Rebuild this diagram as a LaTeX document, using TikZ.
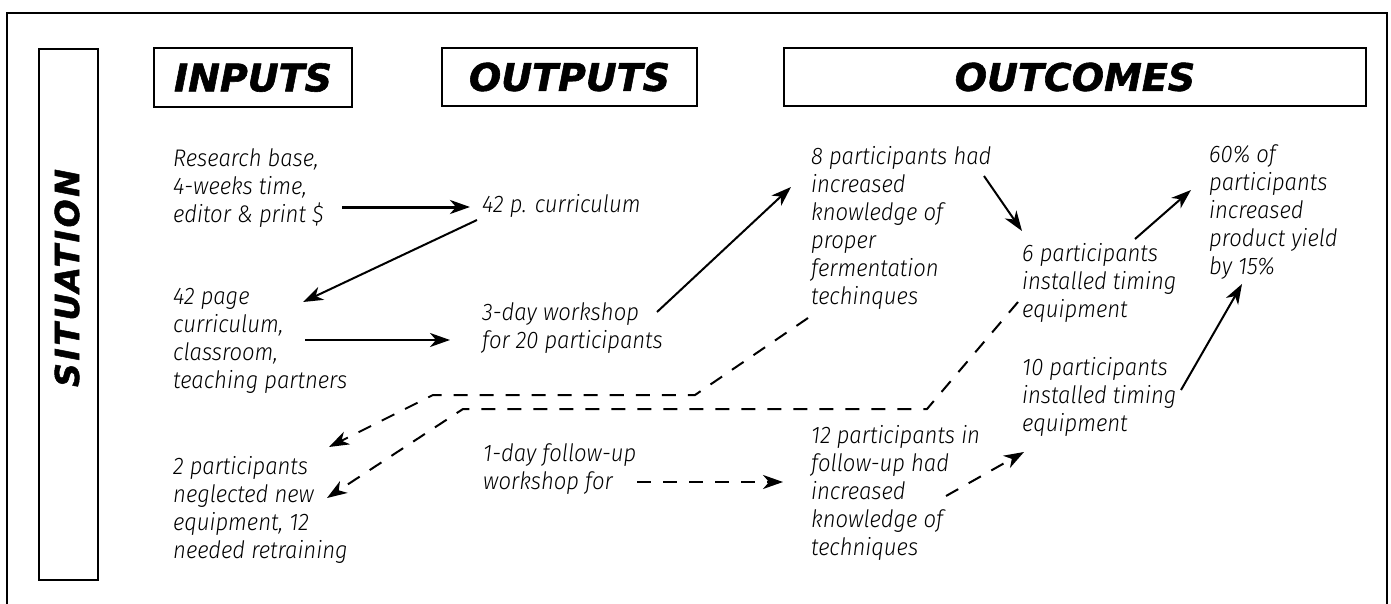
\documentclass[tikz,border=0pt]{standalone}
\usepackage{fontspec}
\setmainfont{Fira Sans}[UprightFont={* Light Italic}, FakeStretch=0.92]
\newfontfamily\headfont{DejaVu Sans}[UprightFont={* Bold Oblique}, FakeBold=1.5]
\usetikzlibrary{arrows.meta}
\begin{document}
\begin{tikzpicture}[x=1pt,y=-1pt,
  txt/.style={anchor=north west, inner sep=0pt, align=left, font=\fontsize{24}{28}\selectfont},
  headbox/.style={draw, line width=1.5pt, inner sep=0pt, font=\headfont\fontsize{38}{38}\selectfont},
  arr/.style={line width=2pt, -{Stealth[length=20pt,width=14pt,inset=6pt]}},
  darr/.style={arr, dash pattern=on 14pt off 12pt}]
\useasboundingbox (0,0) rectangle (1391,604);
% outer frame
\draw[line width=1.5pt] (7,620) -- (7,13) -- (1387,13) -- (1387,620);
% situation
\node[draw, line width=1.5pt, minimum width=59pt, minimum height=531pt, inner sep=0pt] (sitbox) at (68.5,314.5) {};
\node[rotate=90, inner sep=0pt, font=\headfont\fontsize{33}{33}\selectfont\addfontfeatures{LetterSpace=8}] (sit) at (67,278) {SITUATION};
% headers
\node[headbox, minimum width=198pt, minimum height=59pt] (inputs) at (253,77.5) {\raisebox{-2pt}{INPUTS}};
\node[headbox, minimum width=255pt, minimum height=58pt] (outputs) at (569.5,77) {\raisebox{-2pt}{OUTPUTS}};
\node[headbox, minimum width=582pt, minimum height=58pt] (outcomes) at (1075,77) {\raisebox{-2pt}{OUTCOMES}};
% texts
\node[txt] (res) at (173,148) {Research base,\\4-weeks time,\\editor \& print \$};
\node[txt] (cur) at (482,194) {42 p. curriculum};
\node[txt] (page) at (173,288) {42 page\\curriculum,\\classroom,\\teaching partners};
\node[txt] (work) at (482,302) {3-day workshop\\for 20 participants};
\node[txt] (neg) at (173,456) {2 participants\\neglected new\\equipment, 12\\needed retraining};
\node[txt] (follow) at (483,443) {1-day follow-up\\workshop for};
\node[txt] (know8) at (811,146) {8 participants had\\increased\\knowledge of\\proper\\fermentation\\techinques};
\node[txt] (inst6) at (1022,243) {6 participants\\installed timing\\equipment};
\node[txt] (yield) at (1209,144) {60\% of\\participants\\increased\\product yield\\by 15\%};
\node[txt] (inst10) at (1022,357) {10 participants\\installed timing\\equipment};
\node[txt] (know12) at (811,425) {12 participants in\\follow-up had\\increased\\knowledge of\\techniques};
% connector end points
\coordinate (a1s) at (342,207); \coordinate (a1e) at (470,207);
\coordinate (a2s) at (477,220); \coordinate (a2e) at (303,302);
\coordinate (a3s) at (305,340); \coordinate (a3e) at (450,340);
\coordinate (a4s) at (657,312); \coordinate (a4e) at (791,187);
\coordinate (a5s) at (984,176); \coordinate (a5e) at (1022,231);
\coordinate (a6s) at (1135,239); \coordinate (a6e) at (1191,190);
\coordinate (a7s) at (1181,390); \coordinate (a7e) at (1242,284);
\coordinate (d1s) at (808,318); \coordinate (d1a) at (695,395); \coordinate (d1b) at (433,395); \coordinate (d1e) at (329,447);
\coordinate (d2s) at (1018,302); \coordinate (d2a) at (927,409); \coordinate (d2b) at (463,409); \coordinate (d2e) at (327,498);
\coordinate (d3s) at (637,482); \coordinate (d3e) at (783,482);
\coordinate (d4s) at (946,496); \coordinate (d4e) at (1024,452);
% solid arrows
\draw[arr, line width=3pt] (a1s) -- (a1e);
\draw[arr] (a2s) -- (a2e);
\draw[arr] (a3s) -- (a3e);
\draw[arr] (a4s) -- (a4e);
\draw[arr] (a5s) -- (a5e);
\draw[arr] (a6s) -- (a6e);
\draw[arr] (a7s) -- (a7e);
% dashed arrows
\draw[darr] (d1s) -- (d1a) -- (d1b) -- (d1e);
\draw[darr] (d2s) -- (d2a) -- (d2b) -- (d2e);
\draw[darr] (d3s) -- (d3e);
\draw[darr] (d4s) -- (d4e);
\end{tikzpicture}
\end{document}
